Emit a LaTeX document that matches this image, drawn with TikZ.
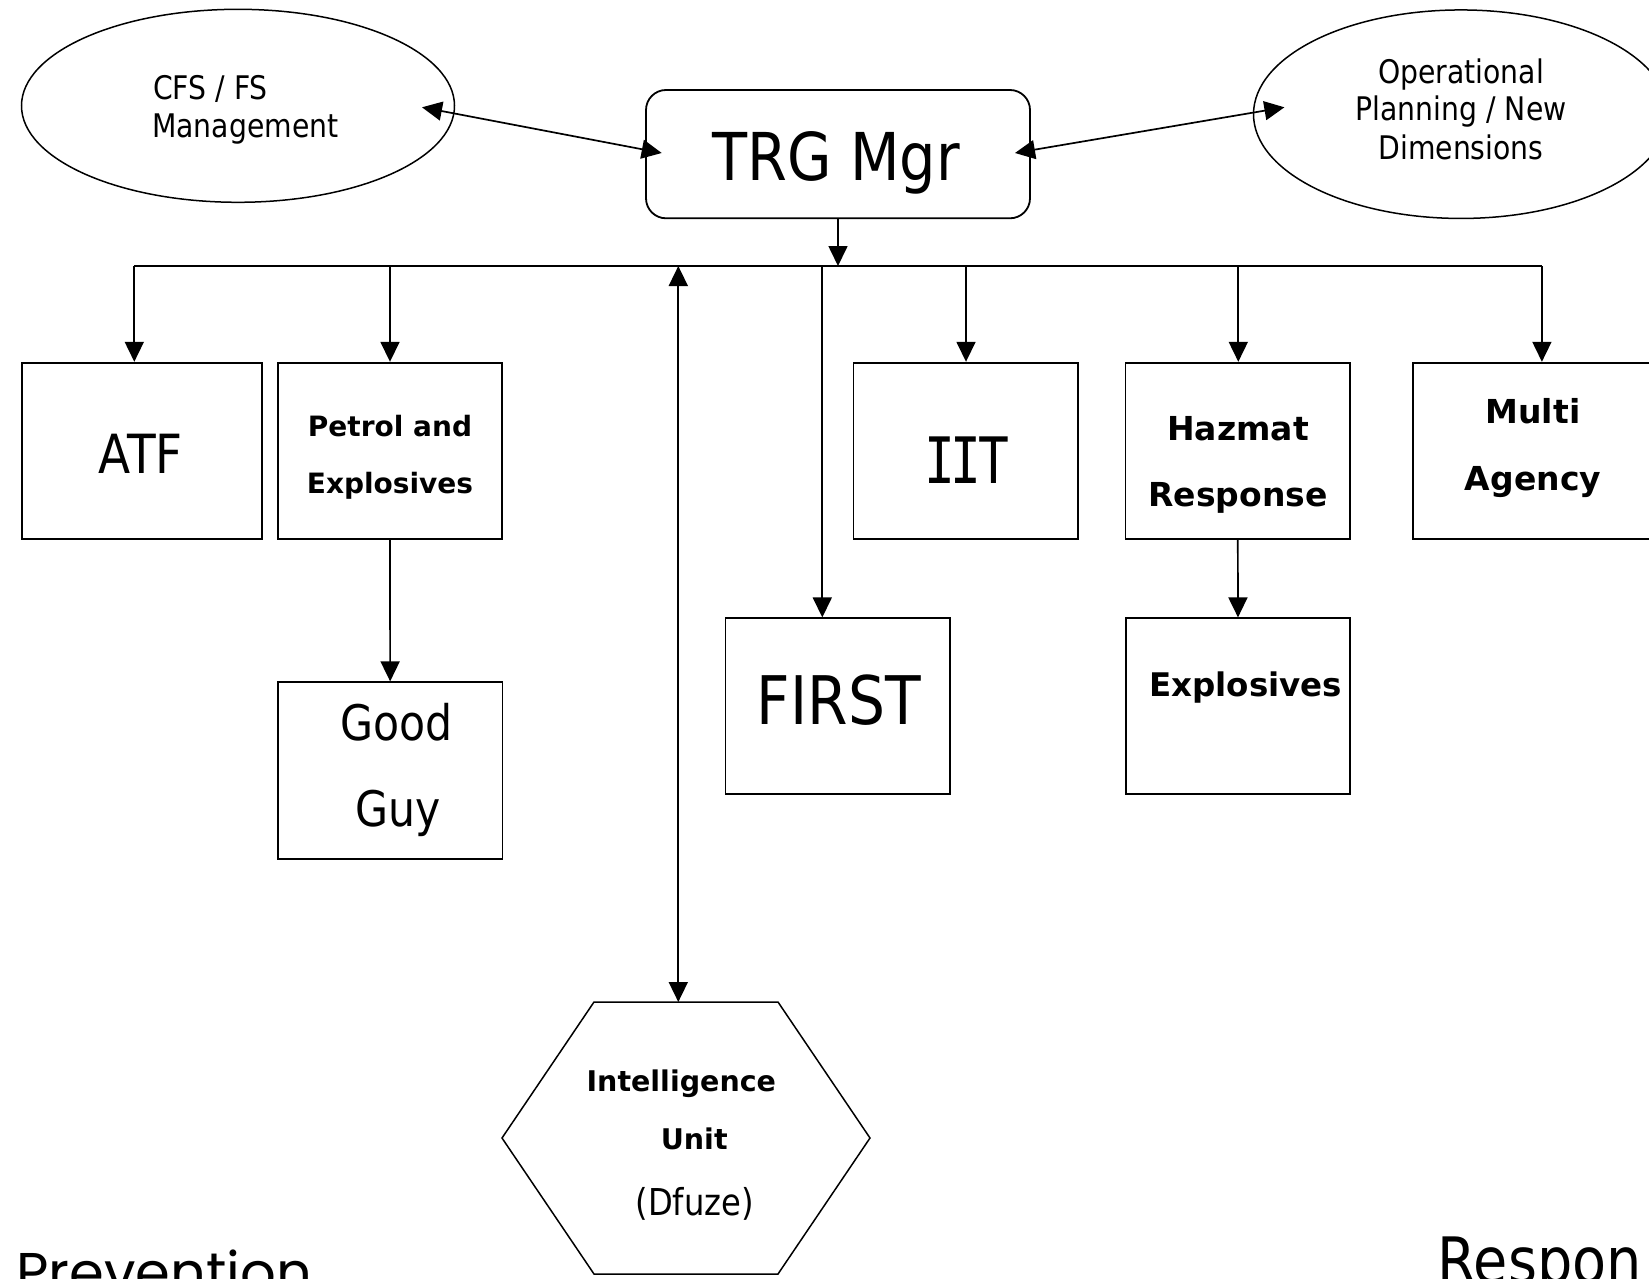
\documentclass[tikz,border=0pt]{standalone}
\usepackage{fontspec}
\setmainfont[FakeStretch=0.87]{DejaVu Sans}
\newfontfamily\boldfam{DejaVu Sans}
\newfontfamily\monofam[FakeStretch=0.8]{DejaVu Sans Mono}
\newfontfamily\geofam{Poppins}
\usetikzlibrary{arrows.meta,shapes.geometric,calc}
\newcommand\myfs[1]{\fontsize{#1}{#1}\selectfont}
\tikzset{
  box/.style={draw, line width=1.8pt, rectangle, minimum width=224.5pt, minimum height=176.3pt, inner sep=0pt},
  widebox/.style={box, minimum width=240.5pt},
  oval/.style={draw, line width=1.5pt, ellipse, inner sep=0pt},
  tip/.tip={Triangle[length=20pt,width=19pt]},
  conn/.style={line width=1.7pt, -tip},
  dconn/.style={line width=1.7pt, tip-tip},
  lbl/.style={inner sep=0pt, anchor=base},
  lblw/.style={inner sep=0pt, anchor=base west},
  bld/.style={font=\boldfam\bfseries\myfs{#1}},
  reg/.style={font=\myfs{#1}},
}
\begin{document}
\begin{tikzpicture}[x=1pt,y=-1pt]
\path[use as bounding box] (0,0) rectangle (1649,1279);
\clip (0,0) rectangle (1649,1279);

% ellipses
\node[oval, minimum width=433pt, minimum height=193pt] (cfs) at (238,105.8) {};
\node[oval, minimum width=415pt, minimum height=208.5pt] (ops) at (1461,114.2) {};
\node[lblw, reg=32.5] (cfsA) at (153,100) {CFS / FS};
\node[lblw, reg=32.5] (cfsB) at (152,137.3) {Management};
\node[lbl, reg=32.5] (opsA) at (1461,83.3) {Operational};
\node[lbl, reg=32.5] (opsB) at (1461,120.7) {Planning / New};
\node[lbl, reg=32.5] (opsC) at (1461,160) {Dimensions};

% manager
\node[draw, line width=1.8pt, rounded corners=20pt, minimum width=384pt, minimum height=128.3pt, inner sep=0pt] (trg) at (838,154.15) {};
\node[lbl, reg=66] (trgT) at (836.3,180) {TRG Mgr};

\coordinate (cfsTip) at (422,107.3);
\coordinate (trgL) at (661.7,153);
\coordinate (trgR) at (1015,153);
\coordinate (opsTip) at (1284.4,107.3);
\draw[dconn] (cfsTip) -- (trgL);
\draw[dconn] (trgR) -- (opsTip);

% boxes
\node[widebox] (atf) at (142,450.85) {};
\node[box] (pet) at (390,450.85) {};
\node[box] (iit) at (965.8,450.85) {};
\node[box] (haz) at (1237.8,450.85) {};
\node[widebox] (mul) at (1533.2,450.85) {};
\node[box, minimum height=176.7pt] (good) at (390.15,770.65) {};
\node[box, minimum height=176pt] (first) at (837.8,706.3) {};
\node[box, minimum height=176pt] (expl) at (1238,706.3) {};

\node[lbl, reg=54] (atfT) at (140.8,473.3) {ATF};
\node[lbl, bld=28] (petA) at (390,436.7) {Petrol and};
\node[lbl, bld=28] (petB) at (390,493.3) {Explosives};
\node[lbl, font=\monofam\myfs{64}] (iitT) at (967.2,483.3) {I\kern-5pt I\kern-3pt T};
\node[lbl, bld=33] (hazA) at (1238,440) {Hazmat};
\node[lbl, bld=33] (hazB) at (1238,506.7) {Response};
\node[lbl, bld=33] (mulA) at (1533,423) {Multi};
\node[lbl, bld=33] (mulB) at (1533,490.5) {Agency};
\node[lbl, reg=49] (goodA) at (396.5,740) {Good};
\node[lbl, reg=49] (goodB) at (398,826.7) {Guy};
\node[lbl, reg=67] (firstT) at (838.7,724) {FIRST};
\node[lbl, bld=32.5] (explT) at (1245.8,696.7) {Explosives};

% bus
\coordinate (bA) at (134.3,266);
\coordinate (bP) at (390,266);
\coordinate (bX) at (678.3,266);
\coordinate (bF) at (822.3,266);
\coordinate (bI) at (966,266);
\coordinate (bH) at (1238.3,266);
\coordinate (bM) at (1541.9,266);
\draw[line width=1.7pt] (bA) -- (bM);
\draw[conn] (trg.south) -- (trg.south |- bA);
\draw[conn] (bA) -- (bA |- atf.north);
\draw[conn] (bP) -- (bP |- pet.north);
\draw[conn] (bI) -- (bI |- iit.north);
\draw[conn] (bH) -- (bH |- haz.north);
\draw[conn] (bM) -- (bM |- mul.north);
\draw[conn] (bF) -- (bF |- first.north);
\draw[conn] (pet.south) -- (good.north);
\draw[conn] (haz.south) -- (expl.north);

% intelligence hexagon
\coordinate (hxL) at (502,1138);
\coordinate (hxTL) at (594,1002);
\coordinate (hxTR) at (778,1002);
\coordinate (hxR) at (870,1138);
\coordinate (hxBR) at (778,1274);
\coordinate (hxBL) at (594,1274);
\coordinate (hxTop) at (678.3,1002);
\draw[line width=1.5pt, line join=miter] (hxL) -- (hxTL) -- (hxTR) -- (hxR) -- (hxBR) -- (hxBL) -- cycle;
\draw[dconn] (bX) -- (hxTop);
\node[lbl, bld=28.5] (intA) at (681.3,1091.7) {Intelligence};
\node[lbl, bld=28.5] (intB) at (694.2,1149.3) {Unit};
\node[lbl, reg=37] (intC) at (694.7,1215) {(Dfuze)};

% corner words
\node[lblw, font=\geofam\myfs{56}] (prev) at (16,1292) {Prevention};
\node[lblw, reg=64] (resp) at (1437.5,1283) {Respon};
\end{tikzpicture}
\end{document}
